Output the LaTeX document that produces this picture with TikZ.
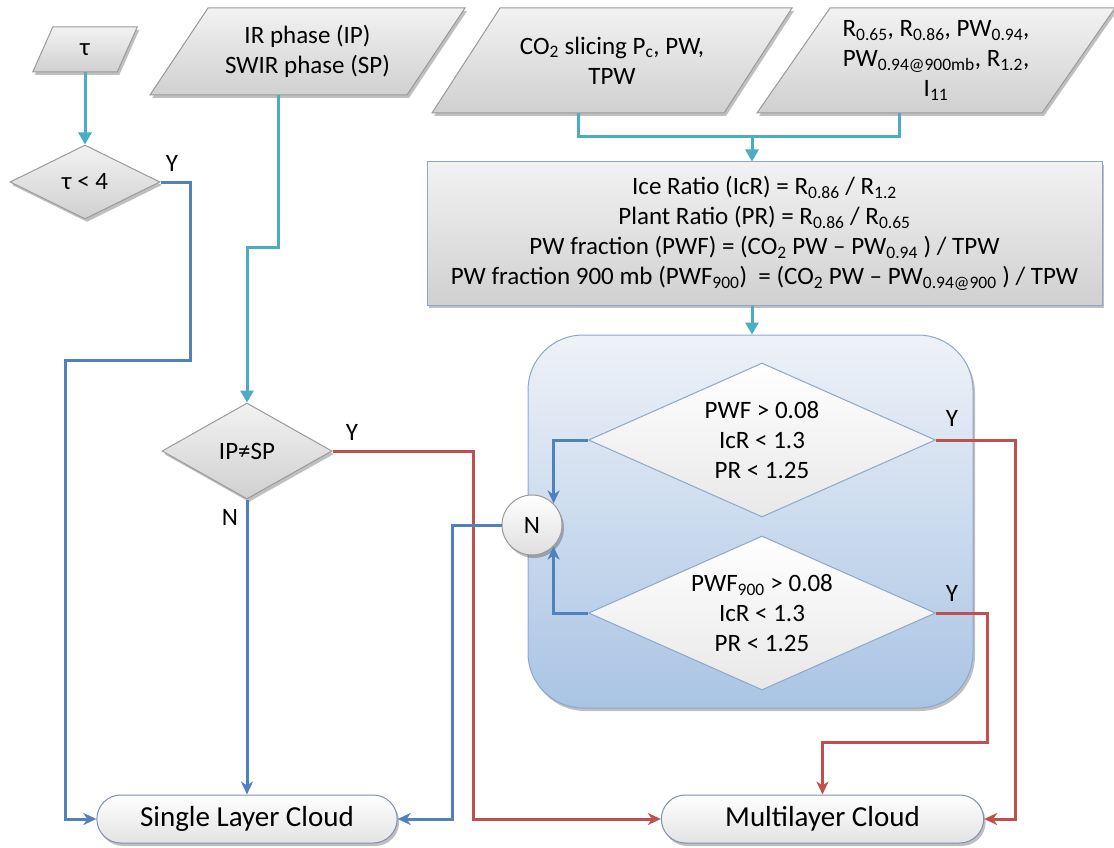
\documentclass[tikz,border=0pt]{standalone}
\usepackage{fontspec}
\setmainfont{Carlito}
\usetikzlibrary{arrows.meta,shadows,shapes.geometric,shapes.misc,calc}
\definecolor{cteal}{HTML}{4BACC6}
\definecolor{cblue}{HTML}{4F81BD}
\definecolor{cred}{HTML}{C0504D}
\definecolor{pgtop}{HTML}{F2F2F2}
\definecolor{pgbot}{HTML}{D0D0D0}
\definecolor{pgline}{HTML}{9A9A9A}
\definecolor{grptop}{HTML}{EEF2F8}
\definecolor{grpbot}{HTML}{A9C4E4}
\definecolor{grpline}{HTML}{8DA7C9}
\definecolor{pillline}{HTML}{7F90AE}
\newcommand{\sbs}[1]{\textsubscript{#1}}
\newcommand{\pgram}[7]{%
  \path[pgfill] ({#2-#4/2-#6/2},{#3+#5/2}) -- ({#2+#4/2-#6/2},{#3+#5/2})
     -- ({#2+#4/2+#6/2},{#3-#5/2}) -- ({#2-#4/2+#6/2},{#3-#5/2}) -- cycle;
  \node[pgtext, minimum width=#4pt, minimum height=#5pt] (#1) at (#2,#3) {#7};
  \coordinate (#1b) at ({#2-#6/2},{#3+#5/2});
}
\begin{document}
\begin{tikzpicture}[x=1pt,y=-1pt,
  base/.style={font=\fontsize{25}{30}\selectfont, align=center},
  shad/.style={drop shadow={shadow xshift=2pt,shadow yshift=-3pt,opacity=0.25,fill=black}},
  pgfill/.style={draw=pgline, line width=1pt, top color=pgtop, bottom color=pgbot, shad},
  pgtext/.style={base, inner sep=0pt},
  gdiam/.style={base, diamond, shape aspect=2, inner sep=0pt, draw=pgline, line width=1pt, top color=pgtop, bottom color=pgbot, shad},
  wdiam/.style={base, diamond, shape aspect=2.3, inner sep=0pt, draw=grpline, line width=1pt, top color=white, bottom color=gray!18, minimum width=347pt, minimum height=154pt},
  pill/.style={base, font=\fontsize{29}{34}\selectfont, rounded rectangle, draw=pillline, line width=1pt, top color=white, bottom color=gray!22, minimum width=307pt, minimum height=48pt, shad},
  tealarr/.style={draw=cteal, line width=3pt, -{Triangle[length=12pt,width=13pt]}},
  tealline/.style={draw=cteal, line width=3pt},
  bluearr/.style={draw=cblue, line width=3pt, -{Stealth[length=13pt,width=12pt,inset=4pt]}},
  redarr/.style={draw=cred, line width=3pt, -{Stealth[length=13pt,width=12pt,inset=4pt]}},
  yn/.style={base, inner sep=0pt}
]
\useasboundingbox (0,0) rectangle (1114,848);

% input parallelograms
\pgram{tau}{85}{49.5}{84.5}{45}{20}{τ}
\pgram{ir}{307.5}{51.5}{257}{87}{58}{IR phase (IP)\\SWIR phase (SP)}
\pgram{co2}{612}{60.5}{292}{105}{68}{CO\sbs{2} slicing P\sbs{c}, PW,\\TPW}
\pgram{rb}{936}{60.5}{285}{105}{73}{R\sbs{0.65}, R\sbs{0.86}, PW\sbs{0.94},\\PW\sbs{0.94@900mb}, R\sbs{1.2},\\I\sbs{11}}

% calculation box
\node[base, draw=grpline, line width=1pt, top color=pgtop, bottom color=pgbot, minimum width=675pt, minimum height=143pt, shad] (calc) at (764.5,233.5)
 {Ice Ratio (IcR) = R\sbs{0.86} / R\sbs{1.2}\\
  Plant Ratio (PR) = R\sbs{0.86} / R\sbs{0.65}\\
  PW fraction (PWF) = (CO\sbs{2} PW – PW\sbs{0.94} ) / TPW\\
  PW fraction 900 mb (PWF\sbs{900})~ = (CO\sbs{2} PW – PW\sbs{0.94@900} ) / TPW};

% group box
\node[draw=grpline, line width=1pt, rounded corners=55pt, top color=grptop, bottom color=grpbot, minimum width=445pt, minimum height=373pt, inner sep=0pt, shad] (grp) at (750.5,521.5) {};
\node[wdiam] (d1) at (762,440) {PWF > 0.08\\IcR < 1.3\\PR < 1.25};
\node[wdiam] (d2) at (762,613) {PWF\sbs{900} > 0.08\\IcR < 1.3\\PR < 1.25};
\node[base, circle, draw=pgline, line width=1pt, top color=white, bottom color=gray!25, minimum size=60pt, inner sep=0pt, shad] (nc) at (532,525) {N};

% decisions
\node[gdiam, minimum width=150pt, minimum height=74pt] (tlt4) at (85,182) {τ < 4};
\node[gdiam, minimum width=170pt, minimum height=96pt] (ipsp) at (247,451) {IP≠SP};

% results
\node[pill] (single) at (247,819) {Single Layer Cloud};
\node[pill, minimum width=329pt] (multi) at (822.5,819) {Multilayer Cloud};

% labels
\node[yn] (y1) at (172,163) {Y};
\node[yn] (y2) at (352,432) {Y};
\node[yn] (y3) at (952,418) {Y};
\node[yn] (y4) at (952,593) {Y};
\node[yn] (n1) at (230,517) {N};

% connectors
\coordinate (irj) at (247,247);
\coordinate (mrg) at (752,137);
\draw[tealarr] (tau.south) -- (tlt4.north);
\draw[tealarr] (irb) |- (irj) -- (ipsp.north);
\draw[tealline] (co2b) |- (mrg) -| (rbb);
\draw[tealarr] (mrg) -- (mrg |- calc.north);
\draw[tealarr] (calc.south -| mrg) -- (grp.north -| mrg);

\draw[bluearr] (tlt4.east) -| (190,360) -- (65,360) |- (single.west);
\draw[bluearr] (ipsp.south) -- (single.north);
\draw[redarr] (ipsp.east) -| (473,819) -- (multi.west);
\draw[bluearr] (nc.west) -| (452,819) -- (single.east);
\draw[bluearr] (d1.west) -| (nc.north east);
\draw[bluearr] (d2.west) -| (nc.south east);
\draw[redarr] (d1.east) -| (1015,819) -- (multi.east);
\draw[redarr] (d2.east) -| (987,742) -| (multi.north);
\end{tikzpicture}
\end{document}
